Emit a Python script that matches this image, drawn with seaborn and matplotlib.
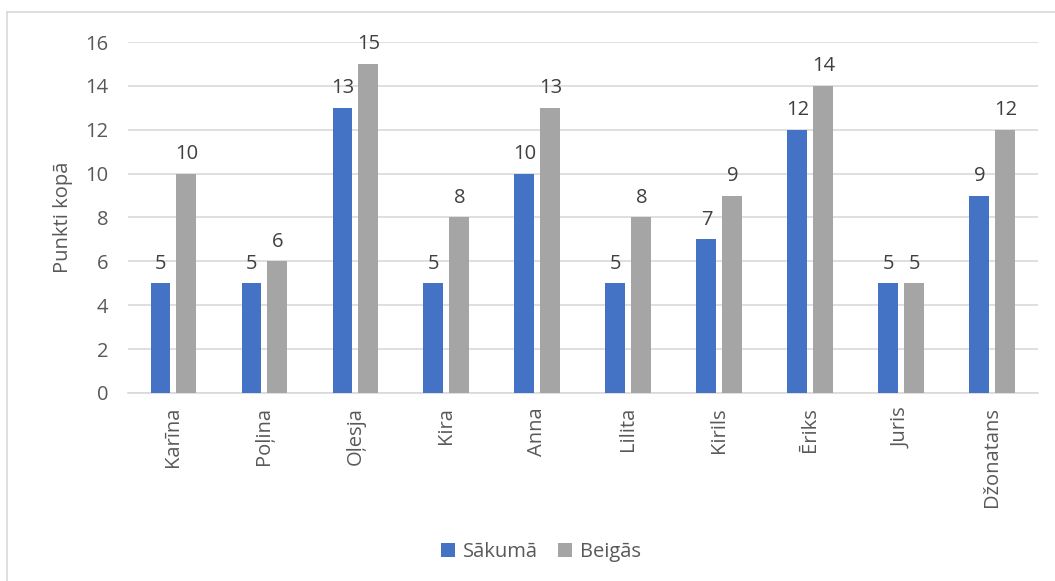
import pandas as pd
import seaborn as sns
import matplotlib.pyplot as plt
from matplotlib.lines import Line2D

# data
names = ["Karīna", "Poļina", "Oļesja", "Kira", "Anna",
         "Lilita", "Kirils", "Ēriks", "Juris", "Džonatans"]
sakuma = [5, 5, 13, 5, 10, 5, 7, 12, 5, 9]
beigas = [10, 6, 15, 8, 13, 8, 9, 14, 5, 12]
series = ["Sākumā", "Beigās"]

df = pd.DataFrame({"name": names, series[0]: sakuma, series[1]: beigas})
df_long = df.melt(id_vars="name", var_name="series", value_name="points")

sns.set_style("white")
plt.rcParams["font.family"] = ["Open Sans", "DejaVu Sans"]
text_col = "#595959"

fig = plt.figure(figsize=(10.55, 5.81), dpi=100)
ax = fig.add_axes([0.1213, 0.3236, 0.8625, 0.6041])

sns.barplot(data=df_long, x="name", y="points", hue="series",
            palette=["#4472C4", "#A5A5A5"], width=0.57, gap=0.23,
            saturation=1, edgecolor="none", linewidth=0, ax=ax, zorder=3)

# value labels above each bar
for cont in ax.containers:
    ax.bar_label(cont, padding=7, fontsize=14.5, color="#404040")

ax.set_ylim(0, 16)
ax.set_yticks(range(0, 17, 2))
ax.set_xlim(-0.5, len(names) - 0.5)
ax.yaxis.grid(True, color="#D9D9D9", linewidth=1.2, zorder=0)
ax.set_axisbelow(True)
for s in ["left", "right", "top"]:
    ax.spines[s].set_visible(False)
ax.spines["bottom"].set_color("#D9D9D9")
ax.spines["bottom"].set_linewidth(1.2)

ax.tick_params(axis="both", length=0, labelsize=14.5, colors=text_col)
ax.tick_params(axis="y", pad=14)
ax.tick_params(axis="x", pad=10)
plt.setp(ax.get_xticklabels(), rotation=90)
ax.set_xlabel("")
ax.set_ylabel("Punkti kopā", fontsize=14.5, color=text_col, labelpad=9)

ax.legend(loc="center", bbox_to_anchor=(0.454, -0.452), ncol=2,
          frameon=False, fontsize=14.5, handlelength=0.7, handleheight=0.7,
          columnspacing=1.0, handletextpad=0.4, labelcolor=text_col)

# light outer chart border like the spreadsheet frame
fig.add_artist(Line2D([7 / 1055, 7 / 1055], [0, 1 - 12 / 581],
                      color="#D9D9D9", linewidth=1.2))
fig.add_artist(Line2D([7 / 1055, 1], [1 - 12 / 581, 1 - 12 / 581],
                      color="#D9D9D9", linewidth=1.2))

fig.savefig("out.png", dpi=100)
